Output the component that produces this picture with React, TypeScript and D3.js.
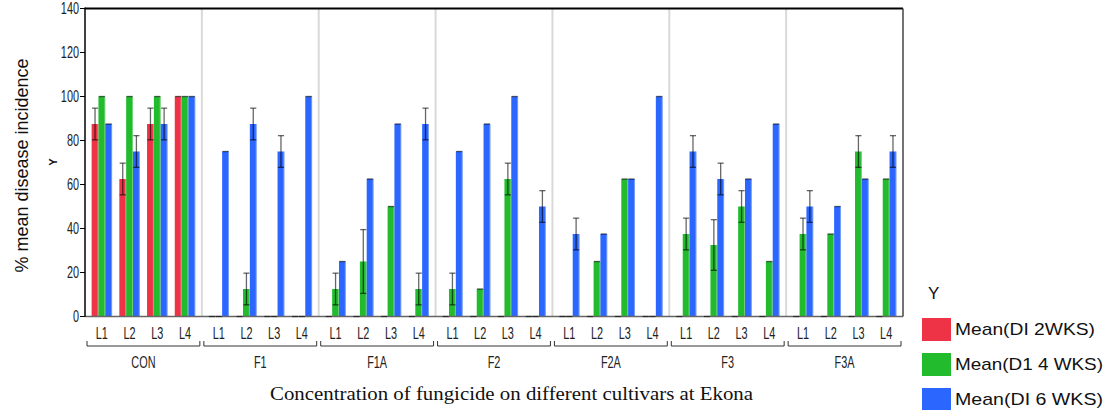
import React from "react";
import * as d3 from "d3";

const groups = ["CON", "F1", "F1A", "F2", "F2A", "F3", "F3A"];
const cultivars = ["L1", "L2", "L3", "L4"];
const seriesNames = ["Mean(DI 2WKS)", "Mean(D1 4 WKS)", "Mean(DI 6 WKS)"];
const seriesColors = ["#EE3347", "#22BB2E", "#2B66FF"];
const yTicks = [0, 20, 40, 60, 80, 100, 120, 140];

// values per group: L1..L4
const di2wks = [
  87.5, 62.5, 87.5, 100,
  0, 0, 0, 0,
  0, 0, 0, 0,
  0, 0, 0, 0,
  0, 0, 0, 0,
  0, 0, 0, 0,
  0, 0, 0, 0,
];
const di2wksErr = [
  7.2, 7.2, 7.2, 0,
  0, 0, 0, 0,
  0, 0, 0, 0,
  0, 0, 0, 0,
  0, 0, 0, 0,
  0, 0, 0, 0,
  0, 0, 0, 0,
];
const di4wks = [
  100, 100, 100, 100,
  0, 12.5, 0, 0,
  12.5, 25, 50, 12.5,
  12.5, 12.5, 62.5, 0,
  0, 25, 62.5, 0,
  37.5, 32.5, 50, 25,
  37.5, 37.5, 75, 62.5,
];
const di4wksErr = [
  0, 0, 0, 0,
  0, 7.2, 0, 0,
  7.2, 14.5, 0, 7.2,
  7.2, 0, 7.2, 0,
  0, 0, 0, 0,
  7.2, 11.5, 7.2, 0,
  7.2, 0, 7.2, 0,
];
const di6wks = [
  87.5, 75, 87.5, 100,
  75, 87.5, 75, 100,
  25, 62.5, 87.5, 87.5,
  75, 87.5, 100, 50,
  37.5, 37.5, 62.5, 100,
  75, 62.5, 62.5, 87.5,
  50, 50, 62.5, 75,
];
const di6wksErr = [
  0, 7.2, 7.2, 0,
  0, 7.2, 7.2, 0,
  0, 0, 0, 7.2,
  0, 0, 0, 7.2,
  7.2, 0, 0, 0,
  7.2, 7.2, 0, 0,
  7.2, 0, 0, 7.2,
];

const seriesValues = [di2wks, di4wks, di6wks];
const seriesErrors = [di2wksErr, di4wksErr, di6wksErr];

const W = 1109;
const H = 410;
const left = 85;
const right = 903;
const top = 8.5;
const bottom = 316.5;
const narrow = "'Liberation Sans Narrow', 'Arial Narrow', 'Liberation Sans', Arial, sans-serif";
const sans = "'Liberation Sans', Arial, sans-serif";
const serif = "'Liberation Serif', 'Times New Roman', serif";

export default function App() {
  const y = d3.scaleLinear().domain([0, 140]).range([bottom, top]);
  const gx = d3.scaleBand<string>().domain(groups).range([left, right]);
  const cx = d3.scaleBand<string>().domain(cultivars).range([3, gx.bandwidth() - 3]);
  const bx = d3
    .scaleBand<string>()
    .domain(seriesNames)
    .range([0, cx.bandwidth()])
    .paddingInner(0)
    .paddingOuter(0.53);

  const bars: React.ReactNode[] = [];
  const errs: React.ReactNode[] = [];
  groups.forEach((g, gi) => {
    cultivars.forEach((c, ci) => {
      const idx = gi * 4 + ci;
      seriesNames.forEach((s, si) => {
        const v = seriesValues[si][idx];
        const e = seriesErrors[si][idx];
        const x0 = (gx(g) as number) + (cx(c) as number) + (bx(s) as number);
        const w = bx.bandwidth();
        if (v > 0) {
          bars.push(
            <g key={`b-${g}-${c}-${si}`}>
              <rect x={x0} y={y(v)} width={w} height={bottom - y(v)} fill={seriesColors[si]} />
              <rect x={x0 + w - 1} y={y(v)} width={1} height={bottom - y(v)} fill="#fff" opacity={0.35} />
            </g>
          );
        }
        const xm = x0 + w / 2;
        const cap = w * 0.45;
        const yt = y(v + e);
        const yb = y(Math.max(0, v - e));
        errs.push(
          <g key={`e-${g}-${c}-${si}`} stroke="#000" strokeOpacity={0.6} strokeWidth={1.3}>
            {e > 0 && <line x1={xm} x2={xm} y1={yt} y2={yb} />}
            <line x1={xm - cap} x2={xm + cap} y1={yt} y2={yt} />
            {e > 0 && <line x1={xm - cap} x2={xm + cap} y1={yb} y2={yb} />}
          </g>
        );
      });
    });
  });

  return (
    <svg
      width={W}
      height={H}
      style={{ position: "absolute", left: 0, top: 0, background: "#fff" }}
    >
      <rect x={0} y={0} width={W} height={H} fill="#fff" />
      {/* group separators */}
      {groups.slice(1).map((g) => (
        <line
          key={`sep-${g}`}
          x1={gx(g) as number}
          x2={gx(g) as number}
          y1={top}
          y2={bottom}
          stroke="#d9d9d9"
          strokeWidth={2}
        />
      ))}
      {bars}
      {/* baseline */}
      <line x1={left} x2={right} y1={bottom} y2={bottom} stroke="#666" strokeWidth={1.5} />
      {errs}
      {/* frame */}
      <line x1={left} x2={right} y1={top} y2={top} stroke="#000" strokeWidth={2} />
      <line x1={right} x2={right} y1={top} y2={bottom} stroke="#444" strokeWidth={1.5} />
      <line x1={left} x2={left} y1={top - 1} y2={bottom} stroke="#000" strokeWidth={1.5} />
      {/* y ticks */}
      {yTicks.map((t) => (
        <g key={`yt-${t}`}>
          <line x1={left - 5} x2={left} y1={y(t)} y2={y(t)} stroke="#000" strokeWidth={1} />
          <text
            transform={`translate(${left - 6},${y(t)}) scale(0.68,1)`}
            textAnchor="end"
            dy="0.36em"
            fontFamily={narrow}
            fontSize={16}
            fill="#222"
          >
            {t}
          </text>
        </g>
      ))}
      <text
        transform={`translate(57,162) rotate(-90)`}
        textAnchor="middle"
        fontFamily={sans}
        fontSize={11}
        fontWeight="bold"
        fill="#111"
      >
        Y
      </text>
      <text
        transform={`translate(28,165.5) rotate(-90)`}
        textAnchor="middle"
        fontFamily={sans}
        fontSize={18}
        fill="#111"
      >
        % mean disease incidence
      </text>
      {/* x labels */}
      {groups.map((g) => {
        const g0 = gx(g) as number;
        return (
          <g key={`xg-${g}`}>
            {cultivars.map((c) => (
              <text
                key={`xl-${g}-${c}`}
                transform={`translate(${g0 + (cx(c) as number) + cx.bandwidth() / 2},339) scale(0.68,1)`}
                textAnchor="middle"
                fontFamily={narrow}
                fontSize={16}
                fill="#222"
              >
                {c}
              </text>
            ))}
            <path
              d={`M${g0 + 2},341V346H${g0 + gx.bandwidth() - 2}V341`}
              fill="none"
              stroke="#333"
              strokeWidth={1}
            />
            <text
              transform={`translate(${g0 + gx.bandwidth() / 2},368) scale(0.68,1)`}
              textAnchor="middle"
              fontFamily={narrow}
              fontSize={16}
              fill="#222"
            >
              {g}
            </text>
          </g>
        );
      })}
      <text
        x={270}
        y={400}
        fontFamily={serif}
        fontSize={18}
        textLength={483}
        lengthAdjust="spacingAndGlyphs"
        fill="#111"
      >
        Concentration of fungicide on different cultivars at Ekona
      </text>
      {/* legend */}
      <text x={928} y={299} fontFamily={sans} fontSize={17} fill="#111">
        Y
      </text>
      {seriesNames.map((s, i) => (
        <g key={`lg-${i}`}>
          <rect x={922} y={318 + i * 35} width={29} height={23} fill={seriesColors[i]} />
          <text
            x={955}
            y={335 + i * 35}
            fontFamily={sans}
            fontSize={17}
            textLength={i === 0 ? 140 : 148}
            lengthAdjust="spacingAndGlyphs"
            fill="#111"
          >
            {s}
          </text>
        </g>
      ))}
    </svg>
  );
}
